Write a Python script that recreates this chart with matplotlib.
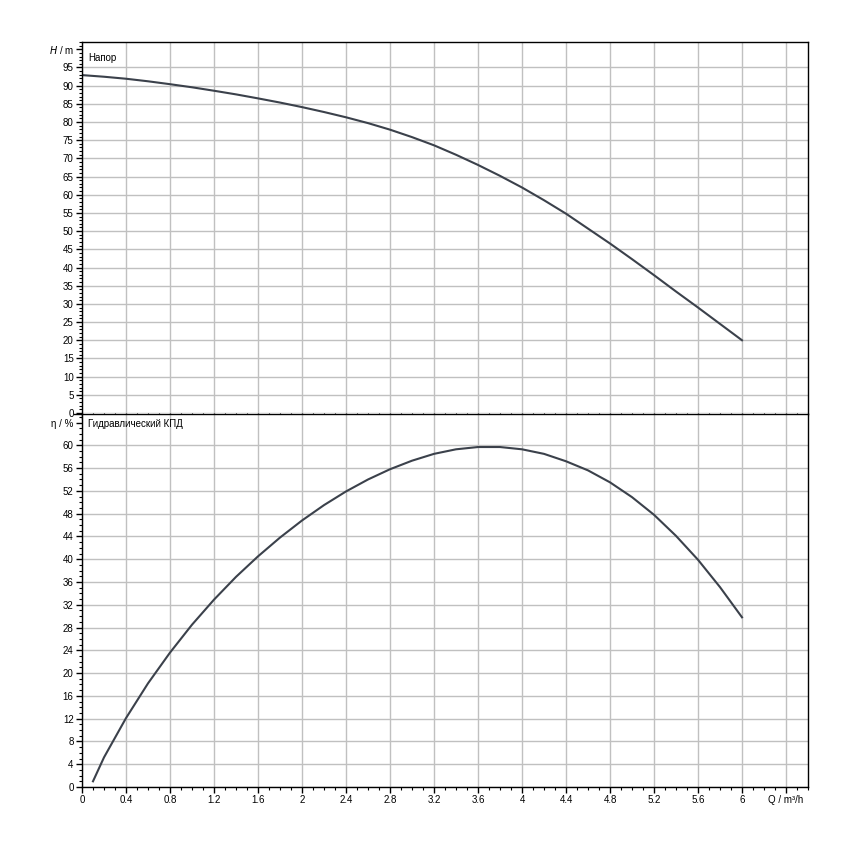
import matplotlib
matplotlib.use('Agg')
import matplotlib.pyplot as plt
from matplotlib.ticker import MultipleLocator
from matplotlib.lines import Line2D
import numpy as np

plt.rcParams['font.family'] = ['Liberation Sans', 'DejaVu Sans']
plt.rcParams['font.size'] = 7

# head curve, Q in m3/h, H in m
q_head = [0.0, 0.2, 0.4, 0.6, 0.8, 1.0, 1.2, 1.4, 1.6, 1.8, 2.0, 2.2, 2.4, 2.6, 2.8, 3.0,
          3.2, 3.4, 3.6, 3.8, 4.0, 4.2, 4.4, 4.6, 4.8, 5.0, 5.2, 5.4, 5.6, 5.8, 6.0]
head = [92.9, 92.45, 91.9, 91.2, 90.4, 89.55, 88.6, 87.6, 86.5, 85.35, 84.1, 82.75, 81.3, 79.7, 77.9, 75.85,
        73.6, 71.0, 68.2, 65.2, 62.0, 58.5, 54.8, 50.7, 46.6, 42.3, 37.9, 33.4, 29.0, 24.5, 20.0]

# hydraulic efficiency, %
q_eff = [0.1, 0.2, 0.4, 0.6, 0.8, 1.0, 1.2, 1.4, 1.6, 1.8, 2.0, 2.2, 2.4, 2.6, 2.8, 3.0, 3.2,
         3.4, 3.6, 3.8, 4.0, 4.2, 4.4, 4.6, 4.8, 5.0, 5.2, 5.4, 5.6, 5.8, 6.0]
eff = [1.0, 5.2, 12.1, 18.2, 23.6, 28.5, 32.9, 36.9, 40.5, 43.8, 46.8, 49.5, 51.9, 54.0, 55.8, 57.3, 58.5,
       59.3, 59.7, 59.7, 59.3, 58.5, 57.2, 55.6, 53.5, 50.9, 47.8, 44.1, 39.9, 35.1, 29.8]

x_ticks = [0, 0.4, 0.8, 1.2, 1.6, 2, 2.4, 2.8, 3.2, 3.6, 4, 4.4, 4.8, 5.2, 5.6, 6, 6.4]
x_labels = ['0', '0.4', '0.8', '1.2', '1.6', '2', '2.4', '2.8', '3.2', '3.6', '4', '4.4',
            '4.8', '5.2', '5.6', '6', 'Q / m³/h']

line_col = '#3b414b'
grid_col = '#c0c0c0'

fig = plt.figure(figsize=(8.5, 8.5), dpi=100)
ax1 = fig.add_axes([82/850, 1-413/850, 726/850, 371/850])
ax2 = fig.add_axes([82/850, 1-787/850, 726/850, 373/850])

for ax in (ax1, ax2):
    ax.set_xlim(0, 6.6)
    ax.set_xticks(x_ticks)
    ax.xaxis.set_minor_locator(MultipleLocator(0.1))
    ax.yaxis.set_minor_locator(MultipleLocator(1))
    ax.grid(True, which='major', color=grid_col, linewidth=1)
    ax.set_axisbelow(True)
    ax.tick_params(which='major', direction='out', length=4, width=1, pad=2, labelsize=7)
    ax.tick_params(which='minor', direction='out', length=2.5, width=0.8)
    for s in ax.spines.values():
        s.set_linewidth(1)

# top: head
ax1.plot(q_head, head, color=line_col, linewidth=1.5)
ax1.set_ylim(0, 102)
ax1.set_yticks(np.arange(0, 101, 5))
ax1.set_yticklabels([str(v) for v in range(0, 96, 5)] + ['$H$ / m'])
ax1.yaxis.get_gridlines()[-1].set_visible(False)
ax1.tick_params(axis='x', labelbottom=False)
ax1.spines['bottom'].set_visible(False)
ax1.text(0.008, 0.958, 'Напор', transform=ax1.transAxes, fontsize=7, va='center', ha='left')

# bottom: efficiency
ax2.plot(q_eff, eff, color=line_col, linewidth=1.5)
ax2.set_ylim(0, 65.5)
ax2.set_yticks(np.arange(0, 65, 4))
ax2.set_yticklabels([str(v) for v in range(0, 61, 4)] + ['η / %'])
ax2.yaxis.get_gridlines()[-1].set_visible(False)
ax2.set_xticklabels(x_labels)
ax2.spines['top'].set_visible(False)
ax2.text(0.008, 0.972, 'Гидравлический КПД', transform=ax2.transAxes, fontsize=7, va='center', ha='left')

# divider between panels
fig.add_artist(Line2D([74/850, 808/850], [1-413.5/850, 1-413.5/850], color='black', linewidth=1))

fig.savefig('out.png', dpi=100)
